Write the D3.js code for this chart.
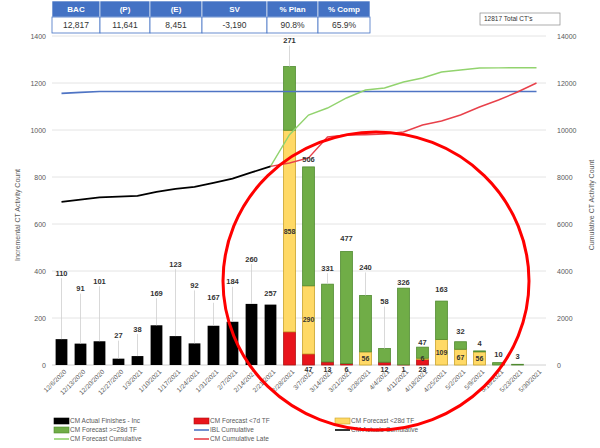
<!DOCTYPE html>
<html><head><meta charset="utf-8">
<script src="https://cdn.jsdelivr.net/npm/d3@7"></script>
<style>
html,body{margin:0;padding:0;background:#fff;}
svg{display:block;font-family:"Liberation Sans",Arial,sans-serif;}
</style></head>
<body><svg id="c" width="600" height="448"></svg>
<script>
// ---------- data ----------
const dates = ["12/6/2020","12/13/2020","12/20/2020","12/27/2020","1/3/2021","1/10/2021","1/17/2021","1/24/2021","1/31/2021","2/7/2021","2/14/2021","2/21/2021","2/28/2021","3/7/2021","3/14/2021","3/21/2021","3/28/2021","4/4/2021","4/11/2021","4/18/2021","4/25/2021","5/2/2021","5/9/2021","5/16/2021","5/23/2021","5/30/2021"];
const actualInc = [110,91,101,27,38,169,123,92,167,184,260,257,0,0,0,0,0,0,0,0,0,0,0,0,0,0];
const fcLt7     = [0,0,0,0,0,0,0,0,0,0,0,0,141,47,13,6,0,12,1,23,0,0,0,0,0,0];
const fcLt28    = [0,0,0,0,0,0,0,0,0,0,0,0,858,290,0,0,56,0,0,6,109,67,56,0,0,0];
const fcGe28    = [0,0,0,0,0,0,0,0,0,0,0,0,271,506,331,477,240,58,326,47,163,32,4,10,3,0];
const actualCum = [6942,7033,7134,7161,7199,7368,7491,7583,7750,7934,8194,8451,null,null,null,null,null,null,null,null,null,null,null,null,null,null];
const iblCum    = [11560,11600,11641,11641,11641,11641,11641,11641,11641,11641,11641,11641,11641,11641,11641,11641,11641,11641,11641,11641,11641,11641,11641,11641,11641,11641];
const fcCum     = [null,null,null,null,null,null,null,null,null,null,null,8451,9800,10638,10936,11362,11702,11787,12043,12213,12468,12553,12638,12645,12650,12650];
const lateCum   = [null,null,null,null,null,null,null,null,null,null,null,8451,8596,8809,9702,9787,9800,9830,9915,10213,10383,10638,10979,11277,11617,12000];
const leftTicks  = [0,200,400,600,800,1000,1200,1400];
const rightTicks = [0,2000,4000,6000,8000,10000,12000,14000];
const tableHead = ["BAC","(P)","(E)","SV","% Plan","% Comp"];
const tableVals = ["12,817","11,641","8,451","-3,190","90.8%","65.9%"];
const totalText = "12817 Total CT's";

// ---------- layout (styling, not data) ----------
const labelLift = [66,55,60,23,27,32,72,58,28,40,45,11,26,8,16,13,28,47,6,5,12,10,8,8,8,0];

const svg = d3.select("#c");
const col = {black:"#000", red:"#e8141c", yellow:"#ffd966", green:"#70ad47", blue:"#4f74c4", gline:"#92d36e", rline:"#e8404a", grid:"#e4e4e4", txt:"#595959"};

const x = d3.scaleBand().domain(dates).range([52,546]).paddingInner(0.38).paddingOuter(0.19);
const yL = d3.scaleLinear().domain([0,1400]).range([365,36]);
const yR = d3.scaleLinear().domain([0,14000]).range([365,36]);

// gridlines
svg.append("g").selectAll("line").data(leftTicks.slice(1)).join("line")
  .attr("x1",52).attr("x2",546).attr("y1",d=>yL(d)).attr("y2",d=>yL(d))
  .attr("stroke",col.grid).attr("stroke-width",1);
svg.append("line").attr("x1",52).attr("x2",546).attr("y1",yL(0)).attr("y2",yL(0)).attr("stroke","#d0d0d0");

// left axis
const axL = d3.axisLeft(yL).tickValues(leftTicks).tickFormat(d3.format("d")).tickSize(0).tickPadding(6);
const gL = svg.append("g").attr("transform","translate(46,0)").call(axL);
gL.select(".domain").remove();
gL.selectAll("text").attr("fill",col.txt).style("font-size","7px").attr("x",0);
// right axis
const axR = d3.axisRight(yR).tickValues(rightTicks).tickFormat(d3.format("d")).tickSize(0).tickPadding(0);
const gR = svg.append("g").attr("transform","translate(557,0)").call(axR);
gR.select(".domain").remove();
gR.selectAll("text").attr("fill",col.txt).style("font-size","7px");

// axis titles
svg.append("text").attr("transform","translate(20,215) rotate(-90)").attr("text-anchor","middle")
  .attr("fill",col.txt).style("font-size","7px").text("Incremental CT Activity Count");
svg.append("text").attr("transform","translate(594,205) rotate(-90)").attr("text-anchor","middle")
  .attr("fill",col.txt).style("font-size","7px").text("Cumulative CT Activity Count");

// x axis labels
const axX = d3.axisBottom(x).tickSize(0).tickPadding(0);
const gX = svg.append("g").attr("transform","translate(0,368)").call(axX);
gX.select(".domain").remove();
gX.selectAll("text").attr("fill",col.txt).style("font-size","6.5px")
  .attr("text-anchor","end").attr("dy","0.5em").attr("transform","translate(3,2) rotate(-45)");

// bars: actual
const bw = x.bandwidth();
svg.append("g").selectAll("rect").data(dates.map((d,i)=>({d,v:actualInc[i]})).filter(o=>o.v>0)).join("rect")
  .attr("x",o=>x(o.d)).attr("width",bw).attr("y",o=>yL(o.v)).attr("height",o=>yL(0)-yL(o.v)).attr("fill",col.black);

// stacked forecast
const rows = dates.map((d,i)=>({d, lt7:fcLt7[i], lt28:fcLt28[i], ge28:fcGe28[i]}));
const stack = d3.stack().keys(["lt7","lt28","ge28"])(rows);
const fills = {lt7:col.red, lt28:col.yellow, ge28:col.green};
const strokes = {lt7:"#b01010", lt28:"#c9a227", ge28:"#4f8a2e"};
stack.forEach(s=>{
  svg.append("g").selectAll("rect").data(s.filter(p=>p[1]-p[0]>0)).join("rect")
    .attr("x",p=>x(p.data.d)).attr("width",bw)
    .attr("y",p=>yL(p[1])).attr("height",p=>yL(p[0])-yL(p[1]))
    .attr("fill",fills[s.key]).attr("stroke",strokes[s.key]).attr("stroke-width",0.8);
});

// lines
function drawLine(arr,scale,color,w){
  const line = d3.line().defined(v=>v!=null).x((v,i)=>x(dates[i])+bw/2).y(v=>scale(v));
  svg.append("path").datum(arr).attr("d",line).attr("fill","none").attr("stroke",color).attr("stroke-width",w);
}
drawLine(iblCum,yR,col.blue,1.6);
drawLine(fcCum,yR,col.gline,1.4);
drawLine(lateCum,yR,col.rline,1.4);
drawLine(actualCum,yR,col.black,1.8);

// top labels with leader lines
const topVals = dates.map((d,i)=>actualInc[i]>0?actualInc[i]:fcGe28[i]);
const totals = dates.map((d,i)=>actualInc[i]+fcLt7[i]+fcLt28[i]+fcGe28[i]);
const gLab = svg.append("g");
dates.forEach((d,i)=>{
  if(!topVals[i]) return;
  const cx = x(d)+bw/2, top = yL(totals[i]), ly = top - labelLift[i];
  if(labelLift[i]>14){
    gLab.append("line").attr("x1",cx).attr("x2",cx).attr("y1",ly+5).attr("y2",top).attr("stroke","#cfcfcf").attr("stroke-width",0.8);
  }
  gLab.append("text").attr("x",cx).attr("y",ly).attr("dy","0.35em").attr("text-anchor","middle")
    .style("font-size","7.5px").style("font-weight","bold").attr("fill","#333").text(topVals[i]);
});
// yellow labels inside
dates.forEach((d,i)=>{
  if(!fcLt28[i]) return;
  const base = fcLt7[i];
  const cy = yL(base + fcLt28[i]/2);
  gLab.append("text").attr("x",x(d)+bw/2).attr("y",cy).attr("dy","0.35em").attr("text-anchor","middle")
    .style("font-size","7px").style("font-weight","bold").attr("fill","#333").text(fcLt28[i]);
});
// red labels below axis
dates.forEach((d,i)=>{
  if(!fcLt7[i] || fcLt7[i]>=100) return;
  gLab.append("text").attr("x",x(d)+bw/2).attr("y",yL(0)+5).attr("dy","0.35em").attr("text-anchor","middle")
    .style("font-size","7px").style("font-weight","bold").attr("fill","#333").text(fcLt7[i]);
});

// table
const colEdges = [52,100,150,202,267,318,370];
const gT = svg.append("g");
tableHead.forEach((h,i)=>{
  gT.append("rect").attr("x",colEdges[i]).attr("y",1).attr("width",colEdges[i+1]-colEdges[i]).attr("height",16)
    .attr("fill","#4472c4").attr("stroke","#fff").attr("stroke-width",0.6);
  gT.append("text").attr("x",(colEdges[i]+colEdges[i+1])/2).attr("y",9).attr("dy","0.35em").attr("text-anchor","middle")
    .attr("fill","#fff").style("font-size","8px").style("font-weight","bold").text(h);
  gT.append("rect").attr("x",colEdges[i]).attr("y",17).attr("width",colEdges[i+1]-colEdges[i]).attr("height",16)
    .attr("fill","#fff").attr("stroke","#4472c4").attr("stroke-width",0.8);
  gT.append("text").attr("x",(colEdges[i]+colEdges[i+1])/2).attr("y",25).attr("dy","0.35em").attr("text-anchor","middle")
    .attr("fill","#333").style("font-size","8.5px").text(tableVals[i]);
});
// total box
svg.append("rect").attr("x",480).attr("y",13).attr("width",80).attr("height",12).attr("fill","#fff").attr("stroke","#8a8a8a").attr("stroke-width",0.7);
svg.append("text").attr("x",484).attr("y",19).attr("dy","0.35em").style("font-size","6.5px").attr("fill","#333").text(totalText);

// legend
const legend = [
  {t:"CM Actual Finishes - Inc", type:"rect", c:col.black, s:"#000", x:54, y:421},
  {t:"CM Forecast <7d TF", type:"rect", c:col.red, s:"#b01010", x:194, y:421},
  {t:"CM Forecast <28d TF", type:"rect", c:col.yellow, s:"#c9a227", x:335, y:421},
  {t:"CM Forecast >=28d TF", type:"rect", c:col.green, s:"#4f8a2e", x:54, y:430},
  {t:"IBL Cumulative", type:"line", c:col.blue, x:194, y:430},
  {t:"CM Actuals Cumulative", type:"line", c:col.black, x:335, y:430},
  {t:"CM Forecast Cumulative", type:"line", c:col.gline, x:54, y:439},
  {t:"CM Cumulative Late", type:"line", c:col.rline, x:194, y:439}
];
const gLeg = svg.append("g");
legend.forEach(l=>{
  if(l.type==="rect") gLeg.append("rect").attr("x",l.x).attr("y",l.y-3).attr("width",15).attr("height",6).attr("fill",l.c).attr("stroke",l.s).attr("stroke-width",0.6);
  else gLeg.append("line").attr("x1",l.x).attr("x2",l.x+15).attr("y1",l.y).attr("y2",l.y).attr("stroke",l.c).attr("stroke-width",1.6);
  gLeg.append("text").attr("x",l.x+16).attr("y",l.y).attr("dy","0.35em").style("font-size","6.5px").attr("fill",col.txt).text(l.t);
});

// red annotation ellipse
svg.append("ellipse").attr("cx",376).attr("cy",281).attr("rx",153).attr("ry",149)
  .attr("fill","none").attr("stroke","#f00").attr("stroke-width",3);
</script></body></html>
